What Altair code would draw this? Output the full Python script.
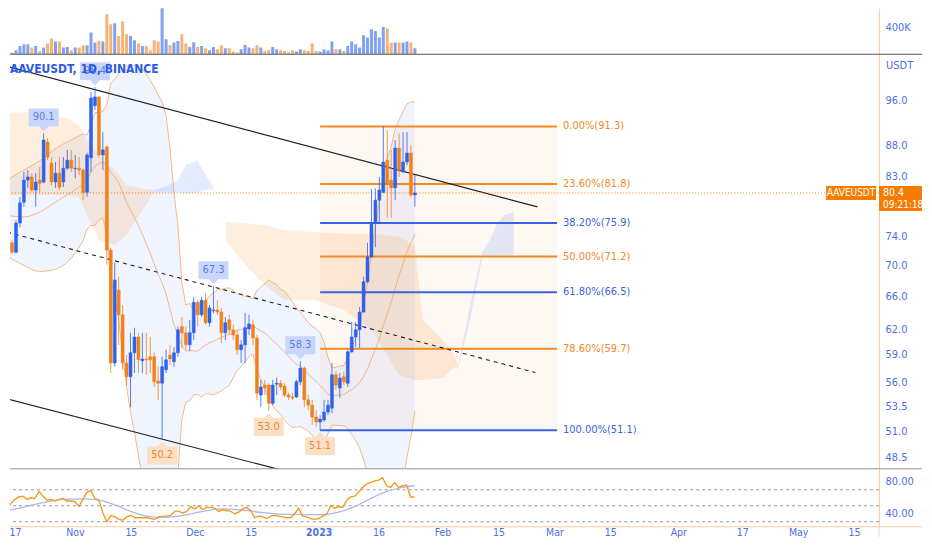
import json
import altair as alt
import pandas as pd

# ---------------- data ----------------
start_date = "2022-10-14"   # first daily candle

opens = [71.0, 73.1, 71.8, 75.9, 79.0, 82.4, 82.9, 80.85, 82.4, 82.1,
         88.6, 85.1, 82.1, 83.5, 82.1, 84.3, 85.6, 84.2, 84.3, 84.0,
         80.5, 86.0, 95.0, 96.6, 86.45, 87.8, 72.1, 58.1, 66.8, 63.7,
         58.1, 56.6, 59.25, 61.05, 58.35, 58.55, 58.8, 58.8, 56.15, 55.9,
         57.35, 59.0, 58.25, 59.25, 62.3, 61.55, 60.15, 61.55, 65.25, 63.7,
         65.5, 62.75, 64.2, 64.3, 64.05, 61.55, 63.1, 61.9, 61.3, 59.6,
         60.15, 62.0, 62.5, 60.95, 54.65, 55.7, 55.7, 53.8, 55.8, 55.9,
         55.6, 54.65, 54.45, 54.45, 56.05, 57.55, 54.15, 53.6, 52.4, 51.9,
         52.1, 52.9, 53.3, 56.8, 55.4, 56.6, 55.9, 59.35, 61.05, 61.9,
         64.05, 67.85, 71.15, 75.9, 79.3, 80.5, 85.6, 82.4, 81.2, 87.6,
         83.7, 85.3, 86.8, 80.1]
highs = [73.5, 73.5, 76.35, 79.8, 83.7, 84.0, 83.5, 83.5, 84.5, 90.1,
         89.3, 86.1, 85.3, 86.1, 86.1, 87.3, 87.3, 86.45, 86.1, 84.3,
         86.8, 97.5, 98.4, 96.8, 90.3, 88.1, 72.4, 70.35, 68.5, 64.9,
         59.0, 61.55, 62.15, 61.55, 61.55, 61.55, 61.05, 59.25, 57.7, 58.8,
         59.6, 60.15, 59.9, 62.3, 63.45, 62.3, 63.1, 65.9, 65.5, 65.9,
         66.4, 64.9, 67.3, 65.5, 64.55, 63.45, 63.7, 62.5, 61.9, 60.7,
         63.95, 63.7, 63.1, 61.3, 56.25, 56.25, 55.9, 56.25, 56.5, 56.25,
         55.9, 54.9, 54.9, 56.25, 58.3, 57.7, 54.65, 54.15, 53.1, 52.6,
         54.15, 54.15, 58.1, 57.15, 57.0, 57.15, 59.6, 62.85, 62.85, 64.65,
         68.5, 73.1, 81.0, 81.1, 82.9, 91.3, 90.65, 87.3, 88.95, 90.1,
         90.3, 90.3, 88.1, 83.2]
lows = [70.5, 71.6, 71.6, 75.3, 78.3, 81.2, 80.5, 78.3, 80.4, 81.9,
        85.6, 81.6, 81.2, 80.85, 81.3, 84.0, 83.7, 82.7, 83.2, 79.3,
        79.8, 83.7, 94.2, 86.1, 84.0, 70.1, 57.0, 57.7, 60.15, 57.35,
        55.7, 53.4, 57.0, 57.0, 57.0, 56.8, 57.0, 55.5, 54.15, 50.2,
        57.0, 57.9, 57.7, 58.8, 59.8, 59.6, 59.4, 60.7, 62.3, 63.45,
        62.5, 62.3, 63.9, 63.7, 60.35, 60.7, 61.3, 60.7, 59.0, 58.1,
        58.1, 61.3, 60.15, 54.15, 53.4, 54.65, 53.0, 53.6, 54.65, 55.2,
        54.45, 54.15, 54.15, 54.35, 55.7, 53.4, 53.1, 51.6, 51.4, 51.1,
        51.9, 52.6, 52.8, 55.2, 54.35, 55.7, 55.5, 59.25, 59.9, 59.8,
        63.95, 67.7, 71.0, 72.5, 75.9, 80.4, 76.7, 76.7, 79.3, 82.9,
        83.5, 84.8, 79.8, 78.3]
closes = [72.5, 71.8, 75.9, 78.9, 82.4, 82.9, 80.85, 82.1, 81.9, 88.95,
          86.1, 82.1, 83.5, 81.3, 84.3, 85.6, 84.3, 84.3, 84.0, 80.5,
          86.45, 96.4, 96.6, 86.45, 87.3, 72.1, 58.1, 68.1, 63.7, 58.1,
          56.6, 59.25, 61.05, 58.45, 58.55, 58.45, 58.45, 56.05, 55.9, 57.7,
          58.45, 58.55, 59.25, 61.9, 61.55, 60.15, 61.55, 65.25, 63.7, 65.5,
          62.75, 64.55, 64.3, 64.05, 61.55, 62.75, 61.9, 61.3, 59.6, 60.15,
          62.15, 62.6, 60.95, 54.85, 55.5, 55.4, 53.8, 55.7, 55.9, 55.5,
          54.65, 54.45, 54.35, 56.05, 57.55, 54.15, 53.6, 52.4, 51.9, 52.2,
          52.9, 53.6, 56.8, 55.7, 56.45, 56.05, 59.35, 61.05, 61.9, 64.05,
          67.85, 71.15, 75.9, 79.3, 80.85, 85.3, 81.9, 81.2, 87.6, 84.0,
          85.3, 86.8, 80.1, 80.4]
volumes_k = [74, 25, 59, 124, 148, 148, 99, 124, 49, 99,
             158, 232, 188, 188, 99, 109, 59, 99, 99, 133,
             133, 321, 173, 198, 188, 593, 445, 459, 272, 484,
             296, 272, 207, 158, 124, 124, 59, 207, 188, 706,
             222, 138, 173, 198, 296, 158, 109, 178, 109, 124,
             84, 59, 109, 74, 133, 89, 89, 40, 25, 74,
             138, 99, 89, 133, 99, 49, 64, 109, 74, 59,
             49, 25, 59, 40, 74, 59, 49, 158, 49, 40,
             74, 59, 188, 74, 74, 49, 124, 188, 148, 99,
             282, 247, 371, 346, 247, 405, 385, 173, 173, 173,
             173, 188, 173, 89]
rsi_values = [41, 46, 53, 58, 61, 62, 58, 60, 59, 68,
              62, 57, 58, 56, 58, 59, 56, 56, 55, 49,
              58, 67, 69, 59, 57, 41, 30, 38, 36, 33,
              32, 36, 38, 35, 35, 35, 35, 34, 33, 36,
              37, 37, 38, 43, 43, 41, 43, 49, 46, 50,
              45, 48, 48, 47, 43, 45, 44, 43, 40, 42,
              46, 48, 44, 35, 37, 36, 34, 37, 38, 37,
              36, 35, 35, 40, 47, 37, 36, 34, 33, 34,
              37, 39, 50, 47, 49, 48, 57, 61, 62, 67,
              73, 77, 79, 81, 82, 85, 75, 73, 79, 73,
              75, 76, 61, 61]

rsi_ma_days = [0, 5, 10, 15, 20, 24, 28, 32, 36, 40, 45, 50, 55, 60, 65, 70, 75, 80, 84, 88, 92, 96, 100, 103]
rsi_ma_values = [43, 48, 54, 58, 58.5, 57, 51, 43, 37, 35.5, 38, 43, 46, 44.5, 41.5, 39.5, 39, 39, 42, 49, 59, 68, 73, 75]

# Bollinger band at the left edge (before 20 candles are on screen)
bb_left_days = [0, 4, 8, 12, 16, 19]
bb_left_upper = [82.5, 84.0, 85.5, 87.5, 89.0, 90.0]
bb_left_basis = [77.0, 76.8, 77.5, 79.0, 80.5, 81.7]
bb_left_lower = [71.2, 70.0, 69.2, 69.5, 71.0, 73.4]

# Ichimoku cloud outlines (day index, top, bottom)
cloud_a_days = [-2, 5, 10, 15, 18, 20, 23, 27, 30, 34, 37]
cloud_a_top = [93.65, 93.8, 93.5, 92.75, 91.5, 88.95, 86.45, 84.0, 81.6, 81.1, 80.85]
cloud_a_bot = [80.1, 80.1, 80.1, 80.1, 79.7, 77.1, 73.5, 72.8, 74.2, 77.8, 80.5]
cloud_b_days = [37, 40, 43, 45, 48, 50, 52]
cloud_b_top = [80.85, 81.4, 82.4, 84.8, 85.6, 83.2, 81.4]
cloud_b_bot = [80.5, 80.5, 80.5, 80.3, 80.5, 80.85, 81.0]
cloud_c_days = [55, 60, 65, 70, 78, 85, 92, 99, 103, 105, 110, 113, 114]
cloud_c_top = [76.05, 75.9, 75.6, 74.9, 74.6, 74.4, 74.4, 73.9, 72.8, 63.1, 60.7, 59.0, 57.8]
cloud_c_bot = [73.5, 70.1, 67.45, 65.5, 65.5, 64.3, 61.9, 56.8, 56.25, 56.25, 56.45, 57.65, 57.55]
cloud_d_days = [114, 117, 120, 122, 124, 126, 128]
cloud_d_top = [57.8, 64.9, 71.8, 73.5, 76.05, 77.2, 77.5]
cloud_d_bot = [57.55, 63.1, 71.0, 71.4, 71.4, 71.4, 71.4]

fib_pcts = [0.0, 23.6, 38.2, 50.0, 61.8, 78.6, 100.0]
fib_prices = [91.3, 81.8, 75.9, 71.2, 66.5, 59.7, 51.1]
fib_colors = ["#F08A24", "#F08A24", "#3A63E4", "#F08A24", "#3A63E4", "#F08A24", "#3A63E4"]
fib_start_day = 79
fib_end_day = 139
fib_label_day = 140.5

high_label_days = [9, 22, 52, 74]
high_label_values = [90.1, 98.4, 67.3, 58.3]
low_label_days = [39, 66, 79]
low_label_values = [50.2, 53.0, 51.1]

trend_start_days = [-0.25, -0.25, -0.25]
trend_start_prices = [102.4, 74.6, 54.26]
trend_end_days = [134, 133.5, 69.75]
trend_end_prices = [78.3, 57.05, 47.3]
trend_dashed = [False, True, False]

last_price = 80.4
countdown = "09:21:18"
symbol = "AAVEUSDT"
title_text = "AAVEUSDT, 1D, BINANCE"

price_ticks = [48.5, 51.0, 53.5, 56.0, 59.0, 62.0, 66.0, 70.0, 74.0, 83.0, 88.0, 96.0]
rsi_ticks = [40, 80]
rsi_levels = [70, 50, 30]
volume_ticks = [400000]
tick_dates = ["2022-10-17", "2022-11-01", "2022-11-15", "2022-12-01", "2022-12-15",
              "2023-01-01", "2023-01-16", "2023-02-01", "2023-02-15", "2023-03-01",
              "2023-03-15", "2023-04-01", "2023-04-17", "2023-05-01", "2023-05-15"]
tick_labels = ["17", "Nov", "15", "Dec", "15", "2023", "16", "Feb", "15", "Mar",
               "15", "Apr", "17", "May", "15"]

# ---------------- styling ----------------
FONT = "Liberation Sans Narrow, DejaVu Sans Condensed, Roboto, sans-serif"
UP = "#2E62EA"
DOWN = "#F0811A"
AXIS_BLUE = "#4D6FE5"
EDGE = "#F7CDA3"
BBC = "#F4A868"
W = 870
RIGHT = 913
H_VOL, H_PRICE, H_RSI = 46, 415, 58

n = len(closes)
t0 = pd.Timestamp(start_date)
cdf = pd.DataFrame({
    "d": list(range(n)),
    "date": pd.date_range(start_date, periods=n).strftime("%Y-%m-%d"),
    "open": opens, "high": highs, "low": lows, "close": closes,
    "vol": [v * 1000 for v in volumes_k], "rsi": rsi_values,
})
cdf["col"] = [UP if c >= o else DOWN for o, c in zip(opens, closes)]

tick_days = [(pd.Timestamp(t) - t0).days for t in tick_dates]

xs = alt.Scale(domain=[1.75, 219.25], nice=False, zero=False)
ps = alt.Scale(type="log", domain=[47.47, 104.8], nice=False)
rs = alt.Scale(domain=[23.75, 96.25], nice=False, zero=False)
vs = alt.Scale(domain=[0, 681500], nice=False)


def X(field="d"):
    return alt.X(f"{field}:Q", scale=xs, axis=None)


def PY(field):
    return alt.Y(f"{field}:Q", scale=ps, axis=None)


one = pd.DataFrame({"a": [0]})

# ---------------- volume panel ----------------
vol_axis = alt.Axis(orient="right", values=volume_ticks, labelExpr="(datum.value/1000) + 'K'",
                    title=None, ticks=False, grid=False, domainColor=EDGE,
                    labelColor=AXIS_BLUE, labelFont=FONT, labelFontSize=11, labelPadding=6)
vol_chart = alt.Chart(cdf).mark_bar(size=3, opacity=0.6, clip=True).encode(
    x=X(), y=alt.Y("vol:Q", scale=vs, axis=vol_axis), color=alt.Color("col:N", scale=None)
).properties(width=W, height=H_VOL)

# ---------------- price panel ----------------
bb_base = alt.Chart(cdf).transform_calculate(
    c2="datum.close * datum.close"
).transform_window(
    m="mean(close)", m2="mean(c2)", frame=[-19, 0], sort=[alt.SortField("d", order="ascending")]
).transform_filter("datum.d >= 19").transform_calculate(
    sd="sqrt(max(0, datum.m2 - datum.m * datum.m))"
).transform_calculate(up="datum.m + 2 * datum.sd", lo="datum.m - 2 * datum.sd")

bb_area = bb_base.mark_area(color="#2962FF", opacity=0.07, clip=True).encode(
    x=X(), y=PY("up"), y2="lo:Q")
bb_lines = [bb_base.mark_line(color=BBC, strokeWidth=0.8, clip=True).encode(x=X(), y=PY(f))
            for f in ["up", "m", "lo"]]

bbl = pd.DataFrame({"d": bb_left_days, "up": bb_left_upper, "m": bb_left_basis, "lo": bb_left_lower})
bbl_area = alt.Chart(bbl).mark_area(color="#2962FF", opacity=0.07, clip=True, interpolate="monotone").encode(
    x=X(), y=PY("up"), y2="lo:Q")
bbl_lines = [alt.Chart(bbl).mark_line(color=BBC, strokeWidth=0.8, clip=True, interpolate="monotone").encode(
    x=X(), y=PY(f)) for f in ["up", "m", "lo"]]

cloud_rows = []
for seg, col, dd, tt, bb in [("a", "#F57C00", cloud_a_days, cloud_a_top, cloud_a_bot),
                             ("b", "#2962FF", cloud_b_days, cloud_b_top, cloud_b_bot),
                             ("c", "#F57C00", cloud_c_days, cloud_c_top, cloud_c_bot),
                             ("e", "#2962FF", cloud_d_days, cloud_d_top, cloud_d_bot)]:
    for d_, t_, b_ in zip(dd, tt, bb):
        cloud_rows.append({"seg": seg, "col": col, "d": d_, "top": t_, "bot": b_})
cloud = alt.Chart(pd.DataFrame(cloud_rows)).mark_area(opacity=0.13, clip=True).encode(
    x=X(), y=PY("top"), y2="bot:Q", color=alt.Color("col:N", scale=None), detail="seg:N")

fib_df = pd.DataFrame({
    "pct": fib_pcts, "p": fib_prices, "col": fib_colors,
    "d0": [fib_start_day] * len(fib_pcts), "d1": [fib_end_day] * len(fib_pcts),
    "dl": [fib_label_day] * len(fib_pcts),
    "label": [f"{a:.2f}%({b:.1f})" for a, b in zip(fib_pcts, fib_prices)],
})
fib_bands = pd.DataFrame({
    "d0": [fib_start_day] * (len(fib_prices) - 1), "d1": [fib_end_day] * (len(fib_prices) - 1),
    "pa": fib_prices[:-1], "pb": fib_prices[1:],
})
fib_fill = alt.Chart(fib_bands).mark_rect(color="#F57C00", opacity=0.05).encode(
    x=X("d0"), x2="d1:Q", y=PY("pa"), y2="pb:Q")
fib_rules = alt.Chart(fib_df).mark_rule(strokeWidth=2).encode(
    x=X("d0"), x2="d1:Q", y=PY("p"), color=alt.Color("col:N", scale=None))
fib_text = alt.Chart(fib_df).mark_text(align="left", baseline="middle", font=FONT, fontSize=11).encode(
    x=X("dl"), y=PY("p"), text="label:N", color=alt.Color("col:N", scale=None))

trend_rows = []
for i, (a, b, c, e, dsh) in enumerate(zip(trend_start_days, trend_start_prices, trend_end_days,
                                          trend_end_prices, trend_dashed)):
    trend_rows.append({"id": i, "d": a, "p": b, "dash": dsh})
    trend_rows.append({"id": i, "d": c, "p": e, "dash": dsh})
tdf = pd.DataFrame(trend_rows)
trend_solid = alt.Chart(tdf[~tdf["dash"]]).mark_line(color="#1E222D", strokeWidth=1.2, clip=True).encode(
    x=X(), y=PY("p"), detail="id:N")
trend_dash = alt.Chart(tdf[tdf["dash"]]).mark_line(color="#1E222D", strokeWidth=1.1, strokeDash=[4, 4],
                                                   clip=True).encode(x=X(), y=PY("p"), detail="id:N")

lp = pd.DataFrame({"p": [last_price]})
price_line = alt.Chart(lp).mark_rule(color="#F57C00", strokeDash=[1, 2], strokeWidth=1).encode(y=PY("p"))

price_axis = alt.Axis(orient="right", values=price_ticks, format=".1f", title=None, ticks=False,
                      grid=False, domainColor=EDGE, labelColor=AXIS_BLUE, labelFont=FONT,
                      labelFontSize=11, labelPadding=6, labelOverlap=False)
wicks = alt.Chart(cdf).mark_rule(strokeWidth=1, opacity=0.8, clip=True).encode(
    x=X(), y=alt.Y("low:Q", scale=ps, axis=price_axis), y2="high:Q",
    color=alt.Color("col:N", scale=None))
bodies = alt.Chart(cdf).mark_bar(size=3, strokeWidth=0.5, clip=True).encode(
    x=X(), y=PY("open"), y2="close:Q", color=alt.Color("col:N", scale=None),
    stroke=alt.Stroke("col:N", scale=None))

hi_shape = "M0,0 L-0.33,-0.33 L-1,-0.33 L-1,-1.53 L1,-1.53 L1,-0.33 L0.33,-0.33 Z"
lo_shape = "M0,0 L-0.33,0.33 L-1,0.33 L-1,1.53 L1,1.53 L1,0.33 L0.33,0.33 Z"
hdf = pd.DataFrame({"d": high_label_days, "p": high_label_values,
                    "t": [f"{v:.1f}" for v in high_label_values]})
ldf = pd.DataFrame({"d": low_label_days, "p": low_label_values,
                    "t": [f"{v:.1f}" for v in low_label_values]})
hi_box = alt.Chart(hdf).mark_point(shape=hi_shape, size=900, filled=True, fill="#C9D6FB", opacity=1,
                                   strokeWidth=0, yOffset=-2).encode(x=X(), y=PY("p"))
hi_txt = alt.Chart(hdf).mark_text(dy=-16, font=FONT, fontSize=11, color="#5B7BE6").encode(
    x=X(), y=PY("p"), text="t:N")
lo_box = alt.Chart(ldf).mark_point(shape=lo_shape, size=900, filled=True, fill="#FCE0C6", opacity=1,
                                   strokeWidth=0, yOffset=2).encode(x=X(), y=PY("p"))
lo_txt = alt.Chart(ldf).mark_text(dy=16, font=FONT, fontSize=11, color="#E98A3A").encode(
    x=X(), y=PY("p"), text="t:N")

title = alt.Chart(one).mark_text(align="left", baseline="middle", font=FONT, fontSize=12,
                                 fontWeight="bold", color="#2A5BE6").encode(
    x=alt.value(0), y=alt.value(15), text=alt.value(title_text))
usdt = alt.Chart(one).mark_text(align="left", baseline="middle", font=FONT, fontSize=11,
                                color=AXIS_BLUE).encode(
    x=alt.value(877), y=alt.value(12), text=alt.value("USDT"))

sym_box = alt.Chart(lp).mark_rect(color="#F57C00", yOffset=-7, y2Offset=7, clip=False).encode(
    x=alt.value(817), x2=alt.value(867), y=PY("p"), y2="p:Q")
sym_txt = alt.Chart(lp).mark_text(color="white", font=FONT, fontSize=10, baseline="middle").encode(
    x=alt.value(842), y=PY("p"), text=alt.value(symbol))
px_box = alt.Chart(lp).mark_rect(color="#F57C00", yOffset=-7, y2Offset=18, clip=False).encode(
    x=alt.value(870), x2=alt.value(RIGHT), y=PY("p"), y2="p:Q")
px_txt = alt.Chart(lp).mark_text(color="white", font=FONT, fontSize=10.5, align="left",
                                 baseline="middle").encode(
    x=alt.value(874), y=PY("p"), text=alt.value(f"{last_price:.1f}"))
cd_txt = alt.Chart(lp).mark_text(color="white", font=FONT, fontSize=10, align="left",
                                 baseline="middle", dy=12).encode(
    x=alt.value(874), y=PY("p"), text=alt.value(countdown))

sep_top = alt.Chart(one).mark_rule(color="#50535E", strokeWidth=1, clip=False).encode(
    x=alt.value(0), x2=alt.value(RIGHT), y=alt.value(0))
sep_bottom = alt.Chart(one).mark_rule(color="#8F929B", strokeWidth=1, clip=False).encode(
    x=alt.value(0), x2=alt.value(RIGHT), y=alt.value(H_PRICE))

price_chart = alt.layer(
    bb_area, bbl_area, cloud, fib_fill, *bb_lines, *bbl_lines, fib_rules, fib_text,
    trend_solid, trend_dash, price_line, wicks, bodies, hi_box, lo_box, hi_txt, lo_txt,
    title, usdt, sym_box, sym_txt, px_box, px_txt, cd_txt, sep_top, sep_bottom,
).resolve_axis(x="independent", y="independent").properties(width=W, height=H_PRICE)

# ---------------- RSI panel ----------------
label_expr = f"{json.dumps(tick_labels)}[indexof({json.dumps(tick_days)}, datum.value)]"
x_axis = alt.Axis(orient="bottom", values=tick_days, labelExpr=label_expr, title=None, ticks=False,
                  grid=False, domain=False, labelColor=AXIS_BLUE, labelFont=FONT, labelFontSize=10.5,
                  labelPadding=1, labelFlush=False, labelOverlap=False,
                  labelFontWeight={"condition": {"test": f"datum.value == {tick_days[5]}", "value": "bold"},
                                   "value": "normal"})
rsi_axis = alt.Axis(orient="right", values=rsi_ticks, format=".2f", title=None, ticks=False, grid=False,
                    domainColor=EDGE, labelColor=AXIS_BLUE, labelFont=FONT, labelFontSize=11,
                    labelPadding=6)

rsi_line = alt.Chart(cdf).mark_line(color="#F39C1F", strokeWidth=1.4, clip=True).encode(
    x=alt.X("d:Q", scale=xs, axis=x_axis), y=alt.Y("rsi:Q", scale=rs, axis=rsi_axis))
lv = alt.Chart(pd.DataFrame({"v": rsi_levels})).mark_rule(color="#9598A1", strokeDash=[3, 3],
                                                           strokeWidth=1).encode(
    y=alt.Y("v:Q", scale=rs, axis=None))
ma = alt.Chart(pd.DataFrame({"d": rsi_ma_days, "v": rsi_ma_values})).mark_line(
    color="#A9B8F2", strokeWidth=1.3, interpolate="monotone", clip=True).encode(
    x=X(), y=alt.Y("v:Q", scale=rs, axis=None))
rsi_bottom = alt.Chart(one).mark_rule(color=EDGE, strokeWidth=1, clip=False).encode(
    x=alt.value(0), x2=alt.value(RIGHT), y=alt.value(H_RSI))
right_tail = alt.Chart(one).mark_rule(color=EDGE, strokeWidth=1, clip=False).encode(
    x=alt.value(W), y=alt.value(H_RSI), y2=alt.value(H_RSI + 10))

rsi_chart = alt.layer(lv, ma, rsi_line, rsi_bottom, right_tail).resolve_axis(
    x="independent", y="independent").properties(width=W, height=H_RSI)

chart = alt.vconcat(vol_chart, price_chart, rsi_chart, spacing=0, bounds="flush").properties(
    padding=0, background="white"
).configure_view(stroke=None)

chart.save("out.html", embed_options={"renderer": "svg", "actions": False})
